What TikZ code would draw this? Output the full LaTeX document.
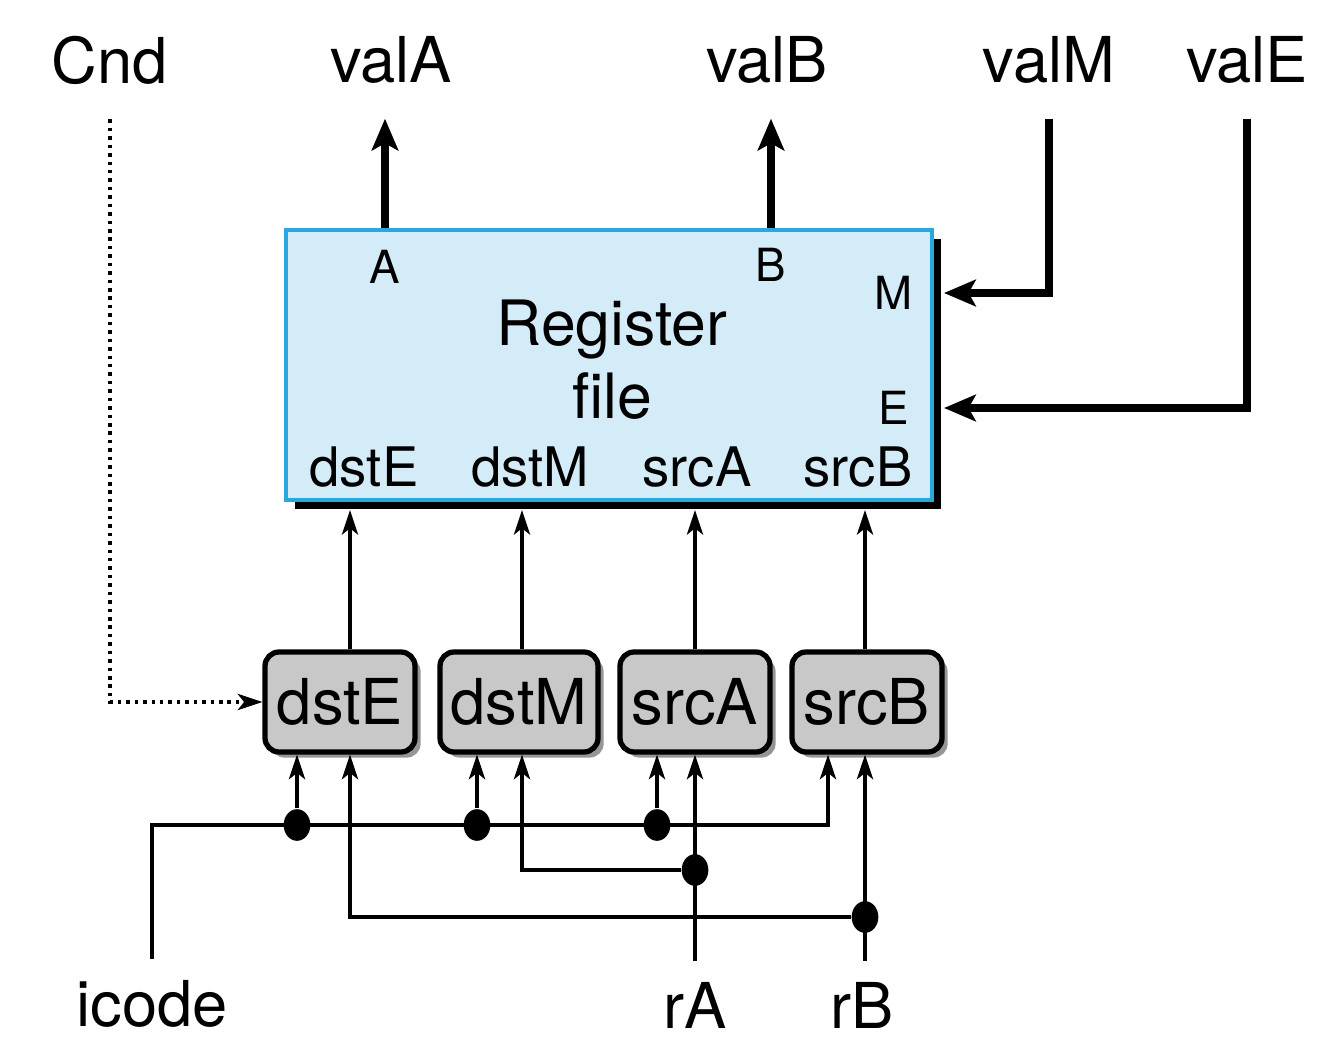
\documentclass[tikz,border=0pt]{standalone}
\usepackage{fontspec}
\setmainfont{TeX Gyre Heros}
\usetikzlibrary{arrows.meta,shadows,shapes.geometric}
\definecolor{rfblue}{RGB}{41,168,224}
\definecolor{rffill}{RGB}{212,236,248}
\definecolor{boxgray}{RGB}{200,200,200}
\definecolor{shadegray}{RGB}{150,150,150}
\begin{document}
\begin{tikzpicture}[x=0.1mm, y=-0.1mm,
  lbl/.style={font=\fontsize{18}{20}\selectfont, inner sep=0pt},
  toplbl/.style={lbl, outer sep=10pt},
  botlbl/.style={lbl, outer sep=6pt},
  portlbl/.style={font=\fontsize{15.5}{18}\selectfont, inner sep=0pt},
  pinlbl/.style={font=\fontsize{13}{15}\selectfont, inner sep=0pt},
  regfile/.style={draw=rfblue, fill=rffill, line width=1pt,
    minimum width=64.6mm, minimum height=27mm,
    drop shadow={shadow xshift=2.6pt, shadow yshift=-2.6pt, fill=black, opacity=1}},
  ctlbox/.style={draw, line width=1.5pt, fill=boxgray, rounded corners=4pt,
    minimum width=15mm, minimum height=10mm, inner sep=1pt,
    font=\fontsize{18}{20}\selectfont,
    drop shadow={shadow xshift=1.6pt, shadow yshift=-1.6pt, fill=shadegray, opacity=1}},
  bigarrow/.style={line width=2.3pt, -{Stealth[length=9pt, width=7.5pt, inset=2pt]}},
  thinarrow/.style={line width=1pt, -{Stealth[length=7pt, width=4.6pt, inset=1.8pt]}},
  dot/.style={ellipse, fill, inner sep=0pt, minimum width=7.6pt, minimum height=9pt}]
  \useasboundingbox (0,0) rectangle (1344,1050);
  % Register file and its ports
  \node[regfile] (rf) at (609,365) {};
  \node[font=\fontsize{17.8}{20.8}\selectfont, align=center] (rfname) at (612,360) {Register\\file};
  \node[pinlbl] (pA) at (385,267) {A};
  \node[pinlbl] (pB) at (771,265) {B};
  \node[pinlbl] (pM) at (894,293) {M};
  \node[pinlbl] (pE) at (894,408) {E};
  \node[portlbl] (qdstE) at (364,467) {dstE};
  \node[portlbl] (qdstM) at (530,467) {dstM};
  \node[portlbl] (qsrcA) at (697,467) {srcA};
  \node[portlbl] (qsrcB) at (858,467) {srcB};
  % Outside of the shadow
  \coordinate (rfshR) at (944,0);
  \coordinate (rfshB) at (0,510);
  % Signals on top
  \node[toplbl] (Cnd) at (110,60) {Cnd};
  \node[toplbl] (valA) at (391,60) {valA};
  \node[toplbl] (valB) at (767,60) {valB};
  \node[toplbl] (valM) at (1049,60) {valM};
  \node[toplbl] (valE) at (1247,60) {valE};
  \draw[bigarrow] (rf.north -| pA) -- (valA.south -| pA);
  \draw[bigarrow] (rf.north -| pB) -- (valB.south -| pB);
  \draw[bigarrow] (valM.south) |- (pM -| rfshR);
  \draw[bigarrow] (valE.south) |- (pE -| rfshR);
  % Control blocks
  \node[ctlbox] (bdstE) at (340,702) {dstE};
  \node[ctlbox, minimum width=15.8mm] (bdstM) at (519,702) {dstM};
  \node[ctlbox] (bsrcA) at (695,702) {srcA};
  \node[ctlbox] (bsrcB) at (867,702) {srcB};
  \coordinate (cE) at (350,0);
  \coordinate (cM) at (522,0);
  \coordinate (cA) at (695,0);
  \coordinate (cB) at (865,0);
  \foreach \n/\c in {dstE/cE, dstM/cM, srcA/cA, srcB/cB}
    \draw[thinarrow] (b\n.north -| \c) -- (rfshB -| \c);
  \draw[thinarrow, dash pattern=on 1pt off 1.4pt] (Cnd.south) |- (bdstE.west);
  % Inputs at the bottom
  \node[botlbl] (icode) at (152,1004) {icode};
  \node[botlbl] (rA) at (695,1005) {rA};
  \node[botlbl] (rB) at (862,1005) {rB};
  \node[dot] (jE) at (297,825) {};
  \node[dot] (jM) at (477,825) {};
  \node[dot] (jA) at (657,825) {};
  \node[dot] (jrA) at (695,870) {};
  \node[dot] (jrB) at (865,917) {};
  \coordinate (iB) at (828,825);
  \draw[thinarrow] (icode.north) |- (iB) -- (bsrcB.south -| iB);
  \foreach \j/\n in {jE/dstE, jM/dstM, jA/srcA}
    \draw[thinarrow] (\j) -- (b\n.south -| \j);
  \draw[thinarrow] (rA.north) -- (bsrcA.south -| rA);
  \draw[thinarrow] (jrA) -| (bdstM.south -| cM);
  \draw[thinarrow] (rB.north -| cB) -- (bsrcB.south -| cB);
  \draw[thinarrow] (jrB) -| (bdstE.south -| cE);
\end{tikzpicture}
\end{document}
